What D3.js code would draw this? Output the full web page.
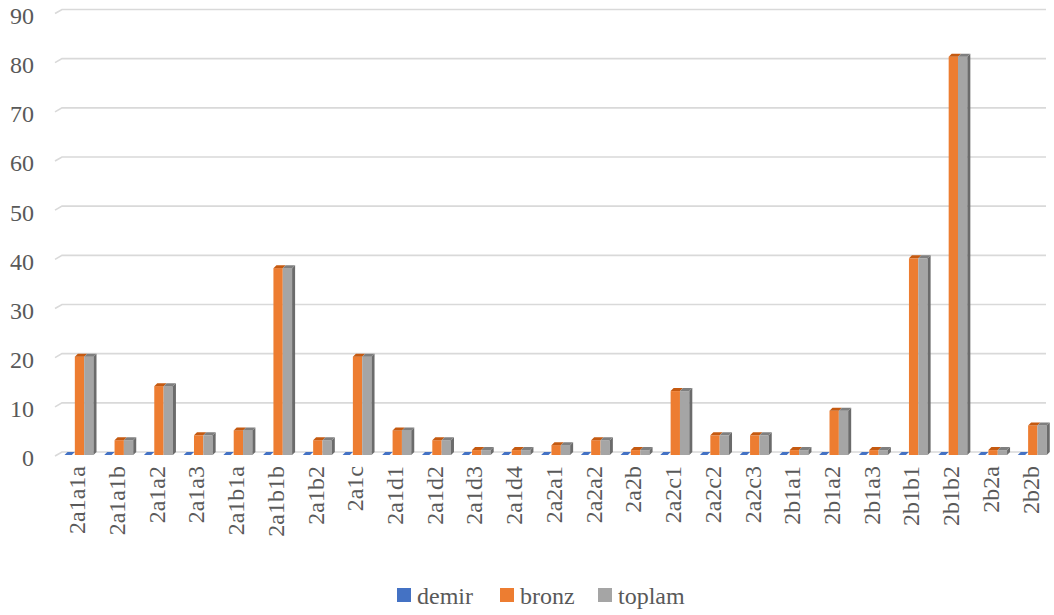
<!DOCTYPE html>
<html><head><meta charset="utf-8">
<script src="https://cdn.jsdelivr.net/npm/d3@7"></script>
</head><body style="margin:0">
<svg id="c" width="1054" height="615" font-family="Liberation Serif" style="display:block;background:#fff"></svg>
<script>
const categories = ["2a1a1a","2a1a1b","2a1a2","2a1a3","2a1b1a","2a1b1b","2a1b2","2a1c","2a1d1","2a1d2","2a1d3","2a1d4","2a2a1","2a2a2","2a2b","2a2c1","2a2c2","2a2c3","2b1a1","2b1a2","2b1a3","2b1b1","2b1b2","2b2a","2b2b"];
const demir  = [0,0,0,0,0,0,0,0,0,0,0,0,0,0,0,0,0,0,0,0,0,0,0,0,0];
const bronz  = [20,3,14,4,5,38,3,20,5,3,1,1,2,3,1,13,4,4,1,9,1,40,81,1,6];
const toplam = [20,3,14,4,5,38,3,20,5,3,1,1,2,3,1,13,4,4,1,9,1,40,81,1,6];
const seriesNames = ["demir","bronz","toplam"];
const yTicks = [0,10,20,30,40,50,60,70,80,90];

const colors = {demir:"#4472c4", bronz:"#ed7d31", toplam:"#a5a5a5"};
const topColors = {demir:"#2f5597", bronz:"#c55a11", toplam:"#7f7f7f"};
const sideColors = {demir:"#2f5597", bronz:"#b4561a", toplam:"#6b6b6b"};

const svg = d3.select("#c");
function styleText(sel){
  return sel.attr("font-family","Liberation Serif").style("font-family",'"Liberation Serif"')
    .style("font-size","24px").style("fill","#595959");
}

const y = d3.scaleLinear().domain([0,90]).range([452,9.5]);
const x = d3.scaleBand().domain(categories).range([58,1051]);
const x1 = d3.scaleBand().domain(seriesNames).range([7.5,35.5]);

// gridlines with 3D slant
const grid = svg.append("g");
yTicks.forEach(t => {
  const yy = y(t);
  grid.append("path")
    .attr("d", `M55,${yy+4}L62,${yy}L1046,${yy}`)
    .attr("fill","none").attr("stroke","#d9d9d9").attr("stroke-width",1.6);
});

// y labels
styleText(svg.append("g").selectAll("text").data(yTicks).join("text")
  .attr("x",34).attr("y",d=>y(d)+6).attr("dy","0.35em")
  .attr("text-anchor","end").text(d=>d));

// bars
const data = {demir, bronz, toplam};
const dx = 3, dy = -3;
const base = y(0) + 3;
const bars = svg.append("g");
categories.forEach((c,i) => {
  seriesNames.forEach((s,si) => {
    const v = data[s][i];
    const x0 = x(c) + x1(s);
    const w = x1.bandwidth();
    const yt = y(v) + 3;
    const g = bars.append("g");
    if (v > 0) {
      g.append("rect").attr("x",x0).attr("y",yt).attr("width",w).attr("height",base-yt)
        .attr("fill",colors[s]);
      if (si === seriesNames.length-1) {
        g.append("path").attr("d",`M${x0+w},${yt}L${x0+w+dx},${yt+dy}L${x0+w+dx},${base+dy}L${x0+w},${base}Z`)
          .attr("fill",sideColors[s]);
      }
      g.append("path").attr("d",`M${x0},${yt}L${x0+dx},${yt+dy}L${x0+w+dx},${yt+dy}L${x0+w},${yt}Z`)
        .attr("fill",topColors[s]);
    } else {
      g.append("path").attr("d",`M${x0-1},${base}L${x0+dx-1},${base+dy}L${x0+w+dx-3},${base+dy}L${x0+w-3},${base}Z`)
        .attr("fill",colors[s]);
    }
  });
});

// x labels
styleText(svg.append("g").selectAll("text").data(categories).join("text")
  .attr("transform",d=>`translate(${x(d)+x.bandwidth()/2-1},466) rotate(-90)`)
  .attr("dy","0.35em").attr("text-anchor","end").text(d=>d));

// legend
const legendX = [397,500,598];
const lg = svg.append("g");
seriesNames.forEach((s,i) => {
  lg.append("rect").attr("x",legendX[i]).attr("y",588).attr("width",14).attr("height",14).attr("fill",colors[s]);
  styleText(lg.append("text").attr("x",legendX[i]+20).attr("y",604).text(s));
});
</script>
</body></html>
